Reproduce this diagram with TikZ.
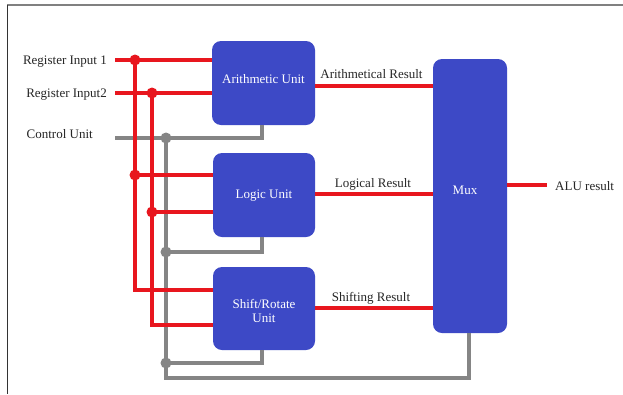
\documentclass[tikz,border=0pt]{standalone}
\usepackage{fontspec}
\setmainfont{Liberation Serif}
\begin{document}
\begin{tikzpicture}[x=1pt,y=-1pt,
  unitbox/.style={draw=none,fill=boxblue,rounded corners=9pt,inner sep=0pt},
  boxtext/.style={text=white,font=\fontsize{13}{15}\selectfont,align=center,inner sep=0pt},
  lbl/.style={text=black!85,font=\fontsize{13}{15}\selectfont,inner sep=0pt},
  redw/.style={draw=sigred,line width=3.6pt},
  grayw/.style={draw=wiregray,line width=3.4pt},
  rdot/.style={circle,fill=sigred,minimum size=11pt,inner sep=0pt},
  gdot/.style={circle,fill=wiregray,minimum size=11pt,inner sep=0pt}]
\definecolor{boxblue}{HTML}{3D49C6}
\definecolor{sigred}{HTML}{E8161E}
\definecolor{wiregray}{HTML}{858585}
\useasboundingbox (0,0) rectangle (623,394);
\fill[white] (0,0) rectangle (623,394);
% frame
\draw[gray,line width=2pt] (7,5) -- (623,5);
\draw[black!80,line width=1pt] (7,5) -- (7,394);
% boxes
\path[unitbox] (212,41) rectangle (315,125);
\path[unitbox] (213,153) rectangle (315,237);
\path[unitbox] (213,267) rectangle (315,350);
\path[unitbox] (433,59) rectangle (507,333);
\node[boxtext] (aut) at (263.5,79) {Arithmetic Unit};
\node[boxtext] (lut) at (264,196) {Logic Unit};
\node[boxtext] (sut) at (264,311) {Shift/Rotate\\[-1pt]Unit};
\node[boxtext] (muxt) at (465,190) {Mux};
% input labels
\node[lbl,anchor=east] (r1) at (107,61.5) {Register Input 1};
\node[lbl,anchor=east] (r2) at (107,94.5) {Register Input2};
\node[lbl,anchor=east] (cu) at (93,134.5) {Control Unit};
% coordinates
\coordinate (r1s) at (115,60);
\coordinate (r2s) at (115,93);
\coordinate (cus) at (115,138);
\coordinate (d1) at (135,60);
\coordinate (d2) at (152,93);
\coordinate (d3) at (166,138);
\coordinate (d4) at (135,175);
\coordinate (d5) at (152,212);
\coordinate (d6) at (166,252);
\coordinate (d7) at (166,363);
% gray control wires
\draw[grayw] (cus) -- (262,138) -- (262,125);
\draw[grayw] (d3) -- (166,378) -- (469,378) -- (469,333);
\draw[grayw] (d6) -- (262,252) -- (262,237);
\draw[grayw] (d7) -- (262,363) -- (262,350);
% red input wires
\draw[redw] (r1s) -- (212,60);
\draw[redw] (r2s) -- (212,93);
\draw[redw] (d1) -- (135,290) -- (213,290);
\draw[redw] (d2) -- (152,325) -- (213,325);
\draw[redw] (d4) -- (213,175);
\draw[redw] (d5) -- (213,212);
% dots
\foreach \p in {d1,d2,d4,d5} \node[rdot] at (\p) {};
\foreach \p in {d3,d6,d7} \node[gdot] at (\p) {};
% outputs
\draw[redw] (315,86) -- (433,86);
\draw[redw] (315,194) -- (433,194);
\draw[redw] (315,308) -- (433,308);
\draw[redw] (507,185) -- (547,185);
\node[lbl] (ar) at (371.5,74) {Arithmetical Result};
\node[lbl] (lr) at (373,184) {Logical Result};
\node[lbl] (sr) at (371,298) {Shifting Result};
\node[lbl,anchor=west] (alu) at (555,186) {ALU result};
\end{tikzpicture}
\end{document}
